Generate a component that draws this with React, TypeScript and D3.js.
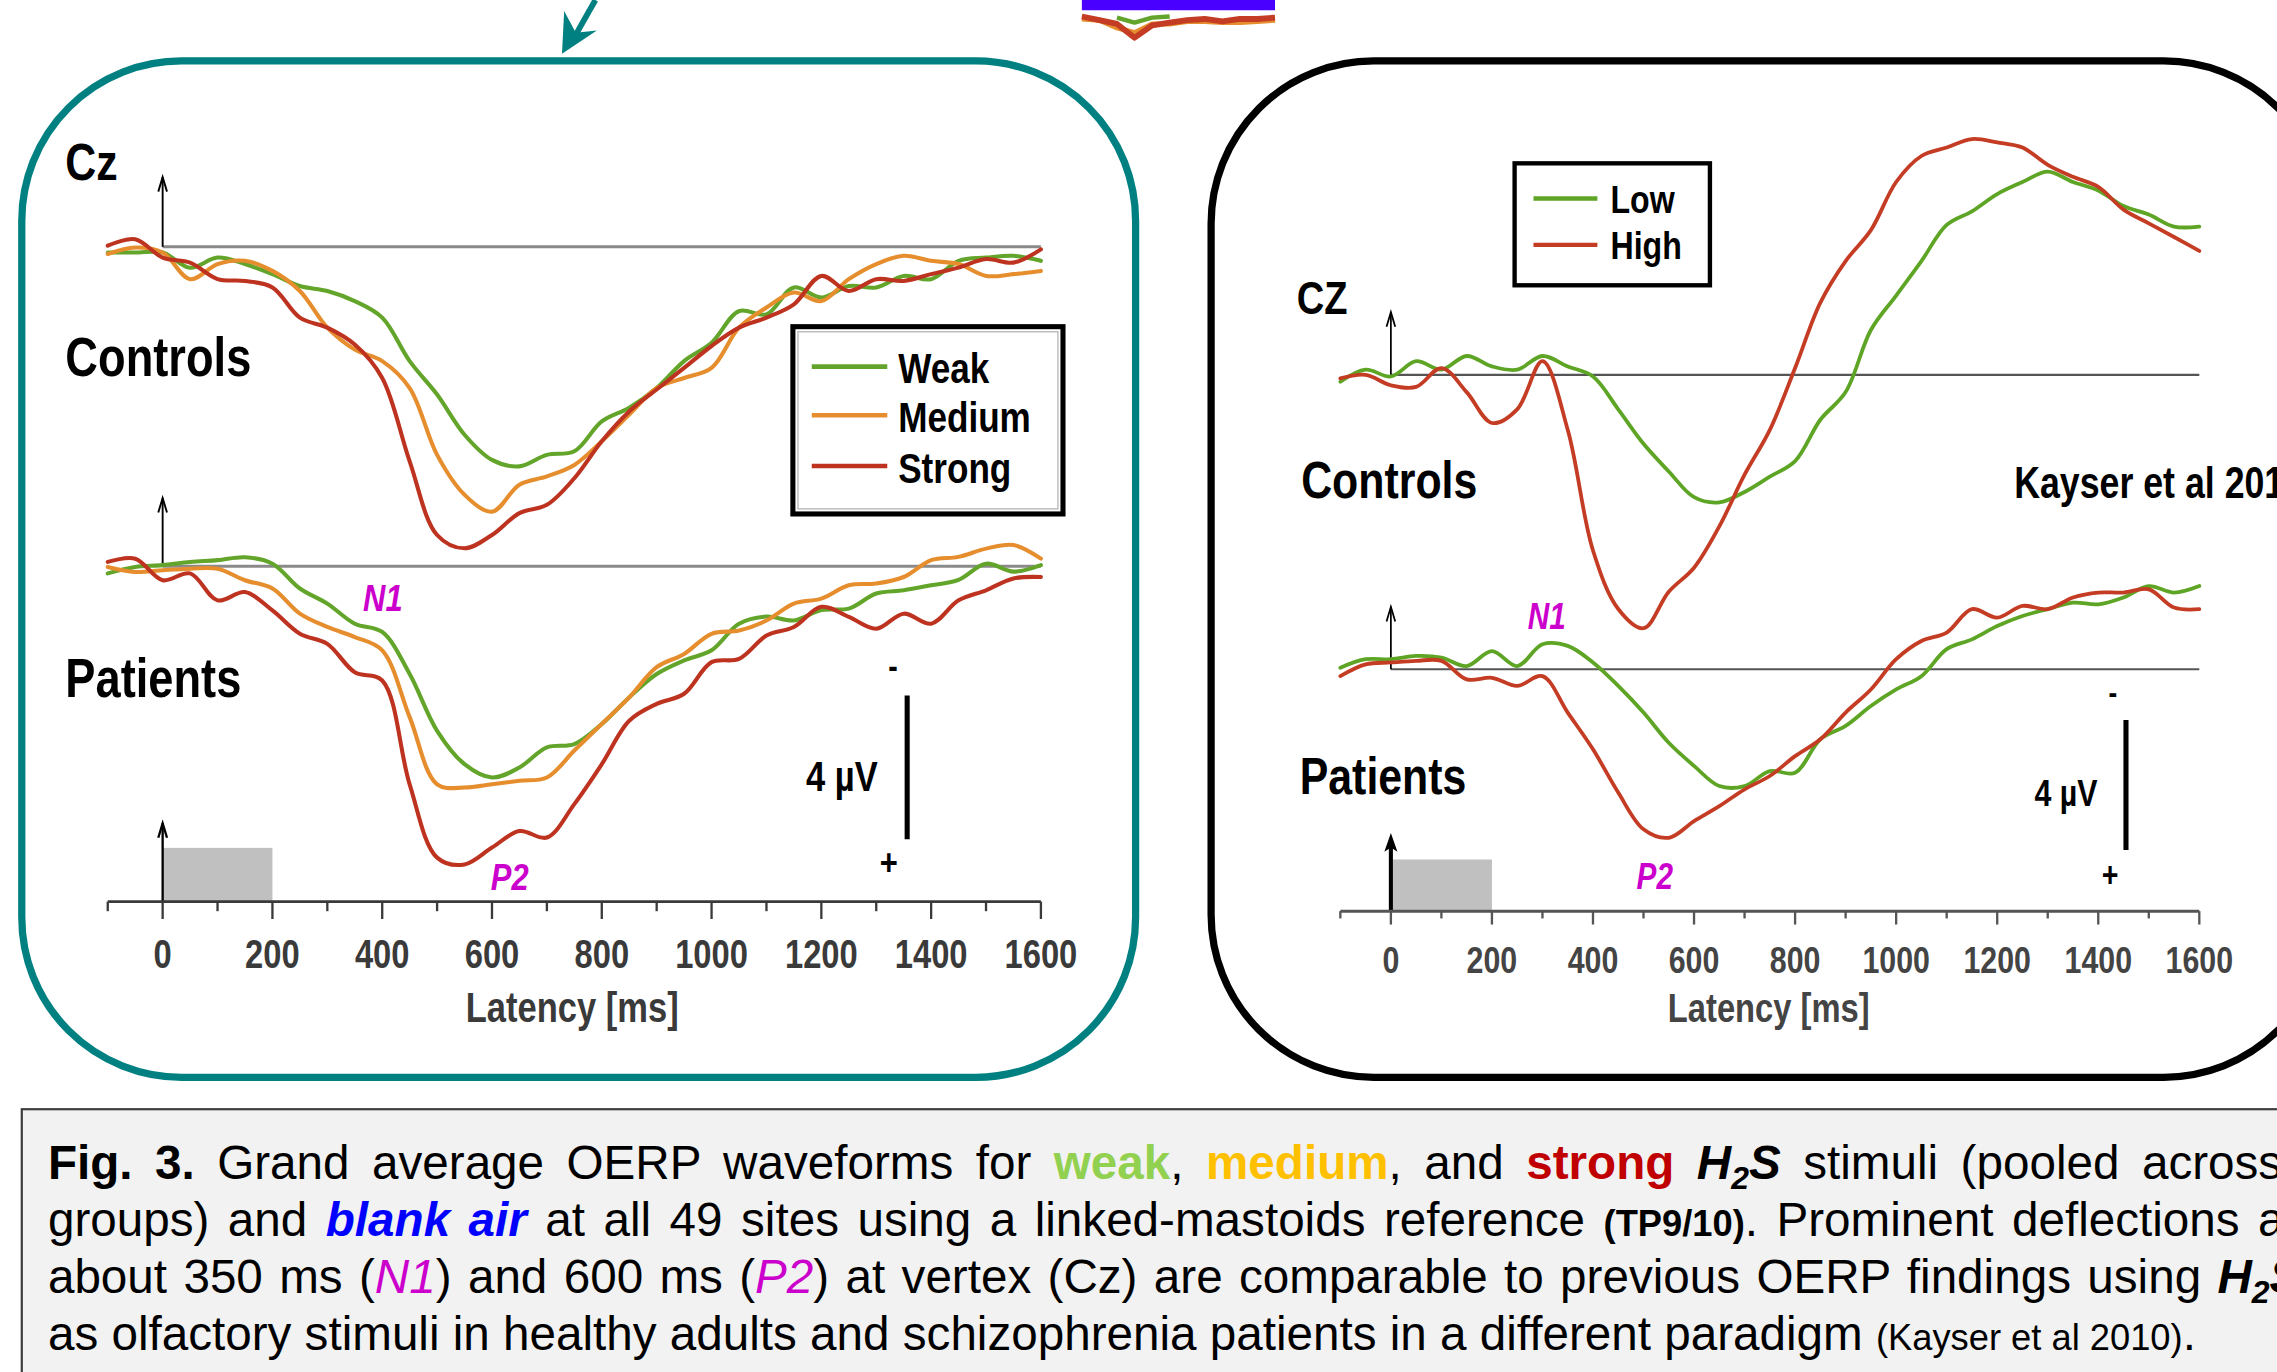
import React, { useEffect, useRef } from "react";
import * as d3 from "d3";

// latency grid (ms)
const latency = [-100, -50, 0, 50, 100, 150, 200, 250, 300, 350, 400, 450, 500, 550, 600, 650, 700, 750, 800, 850, 900, 950, 1000, 1050, 1100, 1150, 1200, 1250, 1300, 1350, 1400, 1450, 1500, 1550, 1600];

// left figure, µV (positive drawn downward)
const ctrlWeak = [0.16, 0.16, 0.16, 0.58, 0.30, 0.48, 0.76, 1.09, 1.23, 1.51, 1.97, 3.18, 4.11, 5.23, 5.93, 6.11, 5.79, 5.69, 4.86, 4.48, 3.93, 3.18, 2.67, 1.79, 1.88, 1.13, 1.41, 1.09, 1.13, 0.81, 0.90, 0.39, 0.30, 0.25, 0.39];
const ctrlMedium = [0.20, 0.02, 0.16, 0.90, 0.48, 0.39, 0.67, 1.23, 2.25, 2.86, 3.18, 3.93, 5.79, 6.90, 7.37, 6.62, 6.39, 6.07, 5.41, 4.67, 3.93, 3.65, 3.37, 2.25, 1.69, 1.27, 1.51, 0.90, 0.48, 0.25, 0.39, 0.48, 0.81, 0.76, 0.67];
const ctrlStrong = [-0.03, -0.21, 0.30, 0.44, 0.90, 0.95, 1.13, 1.97, 2.25, 2.72, 3.65, 5.97, 8.02, 8.39, 8.02, 7.41, 7.18, 6.44, 5.41, 4.58, 3.97, 3.37, 2.76, 2.25, 1.97, 1.60, 0.81, 1.23, 0.90, 0.95, 0.76, 0.58, 0.34, 0.44, 0.07];
const patWeak = [0.20, 0.02, -0.03, -0.12, -0.17, -0.25, -0.07, 0.62, 1.04, 1.60, 1.83, 3.00, 4.58, 5.51, 5.88, 5.60, 5.04, 4.95, 4.39, 3.65, 3.00, 2.62, 2.34, 1.60, 1.40, 1.51, 1.22, 1.18, 0.76, 0.67, 0.53, 0.38, -0.07, 0.15, -0.03];
const patMedium = [0.02, 0.16, 0.11, 0.07, 0.07, 0.39, 0.62, 1.32, 1.69, 1.97, 2.34, 4.20, 6.07, 6.16, 6.07, 5.97, 5.88, 5.13, 4.39, 3.65, 2.81, 2.44, 1.88, 1.79, 1.51, 1.04, 0.90, 0.53, 0.48, 0.30, -0.17, -0.26, -0.49, -0.59, -0.21];
const patStrong = [-0.12, -0.21, 0.39, 0.20, 0.95, 0.72, 1.23, 1.88, 2.16, 2.95, 3.18, 6.07, 8.11, 8.30, 7.83, 7.37, 7.55, 6.62, 5.51, 4.30, 3.83, 3.55, 2.67, 2.58, 1.93, 1.69, 1.13, 1.41, 1.74, 1.32, 1.60, 0.95, 0.67, 0.34, 0.30];

// right figure (Kayser et al 2010)
const kCtrlLow = [0.21, -0.16, 0.05, -0.42, -0.16, -0.58, -0.26, -0.16, -0.58, -0.26, 0.05, 1.06, 2.12, 2.97, 3.76, 3.92, 3.60, 3.13, 2.65, 1.38, 0.53, -1.38, -2.44, -3.50, -4.61, -5.03, -5.56, -5.93, -6.25, -5.93, -5.67, -5.19, -4.93, -4.56, -4.56];
const kCtrlHigh = [0.11, 0.00, 0.32, 0.37, -0.21, 0.53, 1.48, 1.06, -0.42, 1.69, 5.40, 7.20, 7.79, 6.67, 5.93, 4.66, 3.07, 1.69, -0.21, -2.22, -3.50, -4.45, -5.93, -6.73, -6.99, -7.25, -7.15, -6.99, -6.46, -6.09, -5.78, -5.08, -4.66, -4.24, -3.81];
const kPatLow = [-0.05, -0.31, -0.31, -0.41, -0.36, -0.10, -0.56, -0.10, -0.77, -0.72, -0.21, 0.51, 1.33, 2.26, 2.97, 3.59, 3.59, 3.13, 3.18, 2.15, 1.74, 1.13, 0.62, 0.21, -0.62, -0.92, -1.33, -1.64, -1.85, -2.05, -2.00, -2.21, -2.56, -2.36, -2.56];
const kPatHigh = [0.21, -0.15, -0.21, -0.26, -0.26, 0.31, 0.26, 0.51, 0.21, 1.33, 2.46, 3.79, 4.92, 5.18, 4.67, 4.21, 3.69, 3.28, 2.67, 2.15, 1.33, 0.62, -0.31, -0.87, -1.13, -1.85, -1.59, -1.95, -1.85, -2.21, -2.36, -2.36, -2.46, -1.90, -1.85];

const leftNames = ["Weak", "Medium", "Strong"];
const leftColors = ["#62a52a", "#e68d2e", "#bd3320"];
const rightNames = ["Low", "High"];
const rightColors = ["#5ea526", "#c43c23"];

const tickValues = [-100, 0, 100, 200, 300, 400, 500, 600, 700, 800, 900, 1000, 1100, 1200, 1300, 1400, 1500, 1600];
const tickLabels = ["0", "200", "400", "600", "800", "1000", "1200", "1400", "1600"];

// cropped piece of another figure at the top
const fragRed = [0.23, 0.36, 0.5, 1, 0.55, 0.45, 0.36, 0.32, 0.41, 0.32, 0.32, 0.27];
const fragOrange = [0.32, 0.36, 0.64, 0.82, 0.5, 0.5, 0.41, 0.41, 0.45, 0.45, 0.41, 0.36];
const fragGreen = [null, null, 0.27, 0.45, 0.27, 0.23, null, null, null, null, null, null];

const captionLines: any[][] = [
  [{ t: "Fig. 3.", b: true }, { t: " Grand average OERP waveforms for " }, { t: "weak", b: true, c: "#92d050" }, { t: ", " }, { t: "medium", b: true, c: "#ffc000" }, { t: ", and " }, { t: "strong", b: true, c: "#c00000" }, { t: " " }, { t: "H", b: true, i: true }, { t: "2", b: true, i: true, sub: true }, { t: "S", b: true, i: true }, { t: " stimuli (pooled across" }],
  [{ t: "groups) and " }, { t: "blank air", b: true, i: true, c: "#0000ff" }, { t: " at all 49 sites using a linked-mastoids reference " }, { t: "(TP9/10)", n: true, b: true }, { t: ". Prominent deflections at" }],
  [{ t: "about 350 ms (" }, { t: "N1", i: true, c: "#cc00cc" }, { t: ") and 600 ms (" }, { t: "P2", i: true, c: "#cc00cc" }, { t: ") at vertex (Cz) are comparable to previous OERP findings using " }, { t: "H", b: true, i: true }, { t: "2", b: true, i: true, sub: true }, { t: "S", b: true, i: true }],
  [{ t: "as olfactory stimuli in healthy adults and schizophrenia patients in a different paradigm " }, { t: "(Kayser et al 2010)", n: true }, { t: "." }],
];
const captionLastWordX = [1475, 1555, 1527, null];

const SANS = "'Liberation Sans',Arial,sans-serif";

// condensed bold label (Arial Narrow look)
function NT({ x, y, size, anchor = "start", fill = "#000", italic = false, children }: any) {
  return (
    <text
      transform={`translate(${x},${y}) scale(0.82,1)`}
      fontFamily={SANS}
      fontWeight="bold"
      fontSize={size}
      textAnchor={anchor}
      fill={fill}
      fontStyle={italic ? "italic" : "normal"}
    >
      {children}
    </text>
  );
}

function UpArrow({ x, y0, y1, w = 1.3, filled = false }: any) {
  if (filled) {
    return (
      <g>
        <line x1={x} x2={x} y1={y0} y2={y1 + 8} stroke="#000" strokeWidth={w} />
        <polygon points={`${x},${y1} ${x - 4.5},${y1 + 13} ${x},${y1 + 10} ${x + 4.5},${y1 + 13}`} fill="#000" />
      </g>
    );
  }
  return (
    <g fill="none" stroke="#000" strokeWidth={w}>
      <line x1={x} x2={x} y1={y0} y2={y1} />
      <path d={`M${x - 3},${y1 + 10} L${x},${y1} L${x + 3},${y1 + 10}`} />
    </g>
  );
}

export default function App() {
  const capRef = useRef<SVGGElement>(null);

  useEffect(() => {
    // justify the caption lines by widening the word spacing
    d3.select(capRef.current)
      .selectAll<SVGTextElement, unknown>("text.capline")
      .each(function (_, i) {
        const target = captionLastWordX[i];
        if (target == null) return;
        const el = d3.select(this).style("word-spacing", "0px");
        const full = this.textContent || "";
        const idx = full.lastIndexOf(" ") + 1;
        const w = this.getSubStringLength(0, idx);
        const gaps = (full.slice(0, idx).match(/ /g) || []).length;
        el.style("word-spacing", `${(target - 33 - w) / gaps}px`);
      });
  }, []);

  // scales, in a 1568 x 945 user space
  const xL = d3.scaleLinear().domain([-100, 1600]).range([74.2, 716.8]);
  const yLc = d3.scaleLinear().domain([0, 4]).range([170, 269]);
  const yLp = d3.scaleLinear().domain([0, 4]).range([390, 489]);
  const xR = d3.scaleLinear().domain([-100, 1600]).range([923, 1514.5]);
  const yRc = d3.scaleLinear().domain([0, 4]).range([258.2, 347.8]);
  const yRp = d3.scaleLinear().domain([0, 4]).range([461, 550.6]);

  const trace = (x: any, y: any) =>
    d3
      .line<number>()
      .x((_, i) => x(latency[i]))
      .y((d) => y(d))
      .curve(d3.curveCatmullRom.alpha(0.5));

  const leftData = [
    { c: ctrlWeak, p: patWeak },
    { c: ctrlMedium, p: patMedium },
    { c: ctrlStrong, p: patStrong },
  ];
  const rightData = [
    { c: kCtrlLow, p: kPatLow },
    { c: kCtrlHigh, p: kPatHigh },
  ];

  const fx = d3.scaleLinear().domain([0, fragRed.length - 1]).range([745, 878]);
  const fy = d3.scaleLinear().domain([0, 1]).range([7, 26]);
  const fragLine = d3
    .line<number | null>()
    .defined((d) => d != null)
    .x((_, i) => fx(i))
    .y((d) => fy(d as number));

  const axis = (x: any, y: number, major: number, minor: number, color: string) => (
    <g stroke={color}>
      <line x1={x(-100)} x2={x(1600)} y1={y} y2={y} strokeWidth={2} />
      {tickValues.map((t) => (
        <line key={t} x1={x(t)} x2={x(t)} y1={y} y2={y + (t % 200 === 0 ? major : minor)} strokeWidth={1.6} />
      ))}
    </g>
  );

  return (
    <svg
      width={2277}
      height={1372}
      viewBox="0 0 1568 945"
      preserveAspectRatio="none"
      style={{ position: "absolute", left: 0, top: 0, background: "#fff" }}
    >
      {/* fragment of another figure */}
      <g fill="none" strokeLinejoin="round">
        <path d={fragLine(fragOrange) || ""} stroke="#e68d2e" strokeWidth={3.5} />
        <path d={fragLine(fragRed) || ""} stroke="#c43c23" strokeWidth={4} />
        <path d={fragLine(fragGreen) || ""} stroke="#62a52a" strokeWidth={3} />
        <line x1={fx(0)} x2={fx(fragRed.length - 1)} y1={3.5} y2={3.5} stroke="#4a00ff" strokeWidth={7} />
      </g>

      {/* teal arrow */}
      <line x1={410} y1={0} x2={397} y2={23} stroke="#008080" strokeWidth={4} />
      <polygon points="387,37 388.5,7.5 396.5,22.5 411,21" fill="#008080" />

      {/* panel frames */}
      <rect x={15} y={42} width={767} height={700} rx={110} ry={110} fill="none" stroke="#008080" strokeWidth={5} />
      <rect x={834} y={42} width={768} height={700} rx={112} ry={112} fill="none" stroke="#000" strokeWidth={5} />

      {/* ---------- left figure ---------- */}
      <NT x={45} y={124} size={36}>Cz</NT>
      <NT x={45} y={259} size={38}>Controls</NT>
      <NT x={45} y={480} size={38}>Patients</NT>
      <line x1={xL(0)} x2={xL(1600)} y1={yLc(0)} y2={yLc(0)} stroke="#8a8a8a" strokeWidth={2} />
      <line x1={xL(0)} x2={xL(1600)} y1={yLp(0)} y2={yLp(0)} stroke="#8a8a8a" strokeWidth={2} />
      <UpArrow x={xL(0)} y0={yLc(0)} y1={122} />
      <UpArrow x={xL(0)} y0={yLp(0)} y1={343} />
      <g fill="none" strokeWidth={2.8} strokeLinejoin="round" strokeLinecap="round">
        {leftData.map((s, i) => (
          <g key={i} stroke={leftColors[i]}>
            <path d={trace(xL, yLc)(s.c) || ""} />
            <path d={trace(xL, yLp)(s.p) || ""} />
          </g>
        ))}
      </g>
      {/* legend */}
      <rect x={546} y={225} width={186} height={129} fill="#fff" stroke="#000" strokeWidth={3.5} />
      <rect x={549.5} y={228.5} width={179} height={122} fill="none" stroke="#bbb" strokeWidth={1} />
      {leftNames.map((n, i) => {
        const base = [264, 297.5, 332.5][i];
        return (
          <g key={n}>
            <line x1={559} x2={611} y1={base - 11.5} y2={base - 11.5} stroke={leftColors[i]} strokeWidth={3.2} />
            <NT x={618.5} y={base} size={29.5}>{n}</NT>
          </g>
        );
      })}
      <NT x={250} y={421} size={26} italic fill="#cc00cc">N1</NT>
      <NT x={338} y={613} size={26} italic fill="#cc00cc">P2</NT>
      {/* scale bar */}
      <line x1={624.7} x2={624.7} y1={yLp(3.6)} y2={yLp(7.6)} stroke="#000" strokeWidth={3.5} />
      <NT x={615} y={467} size={24} anchor="middle">-</NT>
      <NT x={612} y={603} size={26} anchor="middle">+</NT>
      <NT x={555} y={545} size={29}>4 µV</NT>
      {/* stimulus */}
      <rect x={xL(0)} y={584} width={xL(200) - xL(0)} height={621 - 584} fill="#c0c0c0" />
      <UpArrow x={xL(0)} y0={621} y1={567} w={1.6} />
      {axis(xL, 621, 12, 6.6, "#3a3a3a")}
      {tickLabels.map((l) => (
        <NT key={l} x={xL(+l)} y={667} size={27.5} anchor="middle" fill="#3a3a3a">{l}</NT>
      ))}
      <NT x={394} y={704} size={29} anchor="middle" fill="#3a3a3a">Latency [ms]</NT>

      {/* ---------- right figure ---------- */}
      <NT x={893} y={216} size={32}>CZ</NT>
      <NT x={896} y={343} size={36}>Controls</NT>
      <NT x={895} y={547} size={36}>Patients</NT>
      <NT x={1387} y={343} size={30}>Kayser et al 2010</NT>
      <line x1={xR(0)} x2={xR(1600)} y1={yRc(0)} y2={yRc(0)} stroke="#555" strokeWidth={1.4} />
      <line x1={xR(0)} x2={xR(1600)} y1={yRp(0)} y2={yRp(0)} stroke="#555" strokeWidth={1.4} />
      <UpArrow x={xR(0)} y0={yRc(0)} y1={215} w={1.2} />
      <UpArrow x={xR(0)} y0={yRp(0)} y1={418} w={1.2} />
      <g fill="none" strokeWidth={2.6} strokeLinejoin="round" strokeLinecap="round">
        {rightData.map((s, i) => (
          <g key={i} stroke={rightColors[i]}>
            <path d={trace(xR, yRc)(s.c) || ""} />
            <path d={trace(xR, yRp)(s.p) || ""} />
          </g>
        ))}
      </g>
      <rect x={1043} y={112.5} width={134.5} height={84} fill="#fff" stroke="#000" strokeWidth={3} />
      {rightNames.map((n, i) => {
        const base = [146.7, 178.7][i];
        return (
          <g key={n}>
            <line x1={1056} x2={1100} y1={base - 10} y2={base - 10} stroke={rightColors[i]} strokeWidth={3} />
            <NT x={1109} y={base} size={27}>{n}</NT>
          </g>
        );
      })}
      <NT x={1052} y={433} size={25} italic fill="#cc00cc">N1</NT>
      <NT x={1127} y={612} size={25} italic fill="#cc00cc">P2</NT>
      <line x1={1464} x2={1464} y1={yRp(1.56)} y2={yRp(5.56)} stroke="#000" strokeWidth={3.5} />
      <NT x={1455} y={484} size={22} anchor="middle">-</NT>
      <NT x={1453} y={611} size={24} anchor="middle">+</NT>
      <NT x={1401} y={555} size={25.5}>4 µV</NT>
      <rect x={xR(0)} y={592} width={xR(200) - xR(0)} height={627.6 - 592} fill="#c0c0c0" />
      <UpArrow x={xR(0)} y0={627.6} y1={573.7} w={2.8} filled />
      {axis(xR, 627.6, 9.2, 5, "#555")}
      {tickLabels.map((l) => (
        <NT key={l} x={xR(+l)} y={670} size={25.5} anchor="middle" fill="#444">{l}</NT>
      ))}
      <NT x={1218} y={704} size={27.5} anchor="middle" fill="#444">Latency [ms]</NT>

      {/* ---------- caption ---------- */}
      <rect x={15} y={764} width={1600} height={300} fill="#f2f2f2" stroke="#3c3c3c" strokeWidth={1.5} />
      <g ref={capRef} fontFamily={SANS} fontSize={32.8} fill="#000">
        {captionLines.map((segs, li) => {
          let shift = 0;
          return (
            <text key={li} className="capline" x={33} y={812 + li * 39.3} style={{ whiteSpace: "pre" }}>
              {segs.map((s: any, si: number) => {
                let dy = 0;
                if (s.sub) { dy = 7; shift = 7; }
                else if (shift) { dy = -shift; shift = 0; }
                return (
                  <tspan
                    key={si}
                    dy={dy || undefined}
                    fill={s.c || "#000"}
                    fontWeight={s.b ? "bold" : "normal"}
                    fontStyle={s.i ? "italic" : "normal"}
                    fontSize={s.sub ? 22 : s.n ? 25 : undefined}
                  >
                    {s.t}
                  </tspan>
                );
              })}
            </text>
          );
        })}
      </g>
    </svg>
  );
}
